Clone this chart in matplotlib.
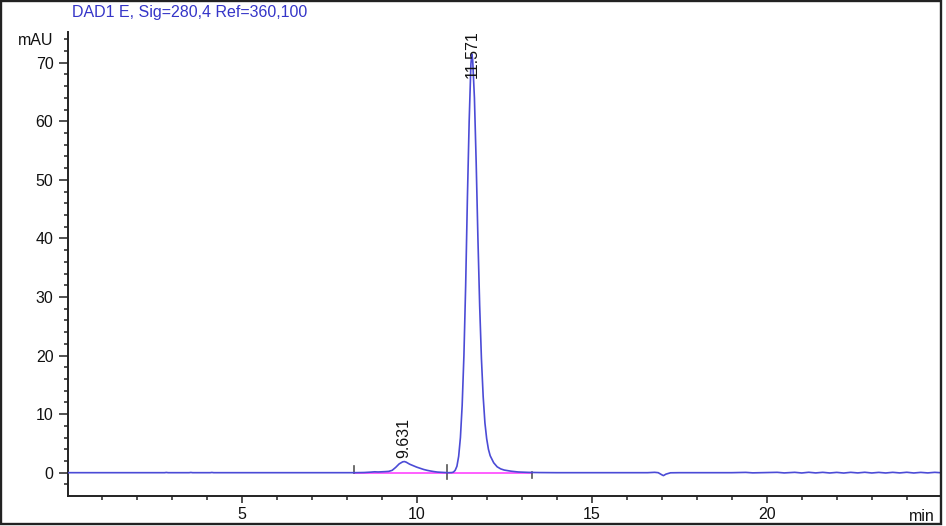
import matplotlib
matplotlib.use("Agg")
import matplotlib.pyplot as plt
from matplotlib.patches import Rectangle
from matplotlib.ticker import MultipleLocator
from matplotlib.transforms import blended_transform_factory

plt.rcParams["font.family"] = ["Liberation Sans", "DejaVu Sans"]

# -------------------------
# Data
# -------------------------
time_min = [
    0.04, 2.8, 2.85, 2.9, 3.5, 3.55, 3.6, 4.1, 4.15, 4.2,
    8.2, 8.5, 8.7, 8.8, 8.9, 9.0, 9.1, 9.2, 9.3, 9.4, 9.5, 9.6, 9.65, 9.7,
    9.8, 9.9, 10.0, 10.1, 10.2, 10.3, 10.4, 10.5, 10.6, 10.8, 10.9,
    11.0, 11.05, 11.10, 11.15, 11.20, 11.25, 11.30, 11.35, 11.40, 11.45,
    11.50, 11.55, 11.575, 11.60, 11.65, 11.70, 11.75, 11.80, 11.85, 11.90,
    11.95, 12.00, 12.05, 12.10, 12.20, 12.30, 12.40, 12.50, 12.70, 12.90,
    13.20, 13.50, 14.0,
    16.6, 16.8, 16.9, 17.0, 17.05, 17.12, 17.25, 17.5,
    19.0, 19.4, 19.6, 20.3, 20.5, 20.8, 21.0, 21.2, 21.4, 21.6, 21.8,
    22.0, 22.2, 22.4, 22.6, 22.8, 23.0, 23.2, 23.4, 23.6, 23.8, 24.0,
    24.2, 24.4, 24.6, 24.8, 24.95,
]
signal_mau = [
    0.0, 0.0, 0.04, 0.0, 0.0, 0.04, 0.0, 0.0, 0.04, 0.0,
    0.0, 0.03, 0.1, 0.15, 0.12, 0.15, 0.18, 0.22, 0.4, 0.9, 1.5, 1.85, 1.9, 1.8,
    1.45, 1.2, 0.95, 0.75, 0.55, 0.4, 0.28, 0.18, 0.1, 0.03, 0.0,
    0.02, 0.1, 0.4, 1.1, 2.8, 6.0, 11.5, 20.0, 32.0, 47.0,
    60.0, 69.8, 71.5, 70.5, 64.0, 53.0, 40.0, 28.5, 19.5, 13.0,
    8.5, 5.8, 4.0, 2.9, 1.7, 1.0, 0.65, 0.45, 0.25, 0.12,
    0.05, 0.02, 0.0,
    0.0, 0.06, 0.0, -0.35, -0.5, -0.25, -0.02, 0.0,
    0.0, 0.05, -0.03, 0.06, -0.04, 0.06, -0.05, 0.07, -0.04, 0.06, -0.05,
    0.05, -0.06, 0.06, -0.04, 0.07, -0.05, 0.05, -0.05, 0.06, -0.04, 0.07,
    -0.05, 0.05, -0.04, 0.06, 0.0,
]

# integration baseline and peak start/end marks
base_t = [8.22, 13.3]
base_y = [0.0, 0.0]
mark_t = [8.22, 10.88, 13.3]
mark_top = [1.1, 1.25, 0.2]
mark_bottom = [-0.1, -1.0, -0.9]

# peak labels (retention times)
peak_rt = [9.631, 11.571]
peak_label_x = [9.63, 11.60]
peak_label_y = [2.5, 67.4]

title = "DAD1 E, Sig=280,4 Ref=360,100"

# -------------------------
# Figure
# -------------------------
W, H = 946, 526
fig = plt.figure(figsize=(W / 100, H / 100), dpi=100)
ax = fig.add_axes([68 / W, (H - 495.7) / H, 872 / W, (495.7 - 31.7) / H])

ax.plot(base_t, base_y, color="#ff44ff", lw=1.2, zorder=2)
for t, y0, y1 in zip(mark_t, mark_bottom, mark_top):
    ax.plot([t, t], [y0, y1], color="#555555", lw=1.2, zorder=3)
ax.plot(time_min, signal_mau, color="#4b4bd6", lw=1.2, zorder=4)

for x, y, rt in zip(peak_label_x, peak_label_y, peak_rt):
    ax.text(x, y, f"{rt:.3f}", rotation=90, ha="center", va="bottom",
            fontsize=11.5, color="#111111", zorder=5)

ax.set_xlim(0.04, 24.95)
ax.set_ylim(-3.93, 75.3)

ax.xaxis.set_major_locator(MultipleLocator(5))
ax.xaxis.set_minor_locator(MultipleLocator(1))
ax.yaxis.set_major_locator(MultipleLocator(10))
ax.yaxis.set_minor_locator(MultipleLocator(2))
ax.set_xticks([5, 10, 15, 20])

for s in ["top", "right"]:
    ax.spines[s].set_visible(False)
for s in ["left", "bottom"]:
    ax.spines[s].set_linewidth(1.4)
    ax.spines[s].set_color("#222222")

ax.tick_params(axis="both", which="both", direction="out", color="#222222",
               labelsize=11.5, labelcolor="#111111")
ax.tick_params(axis="x", which="major", length=5.3, width=1.1, pad=3)
ax.tick_params(axis="x", which="minor", length=2.9, width=1.1)
ax.tick_params(axis="y", which="major", length=6.5, width=1.1, pad=4)
ax.tick_params(axis="y", which="minor", length=3.1, width=1.1)

trans = blended_transform_factory(ax.transAxes, ax.transData)
ax.text(-0.017, 73.8, "mAU", transform=trans, ha="right", va="center",
        fontsize=11.5, color="#111111")
ax.text(0.994, -0.028, "min", transform=ax.transAxes, ha="right", va="top",
        fontsize=11.5, color="#111111")

fig.text(72 / W, 1 - 12 / H, title, ha="left", va="center",
         fontsize=11.5, color="#3535c8")

fig.patches.append(Rectangle((1.3 / W, 2 / H), 939.7 / W, 523 / H,
                             transform=fig.transFigure, fill=False,
                             lw=1.7, ec="#222222"))

fig.savefig("out.png", dpi=100)
